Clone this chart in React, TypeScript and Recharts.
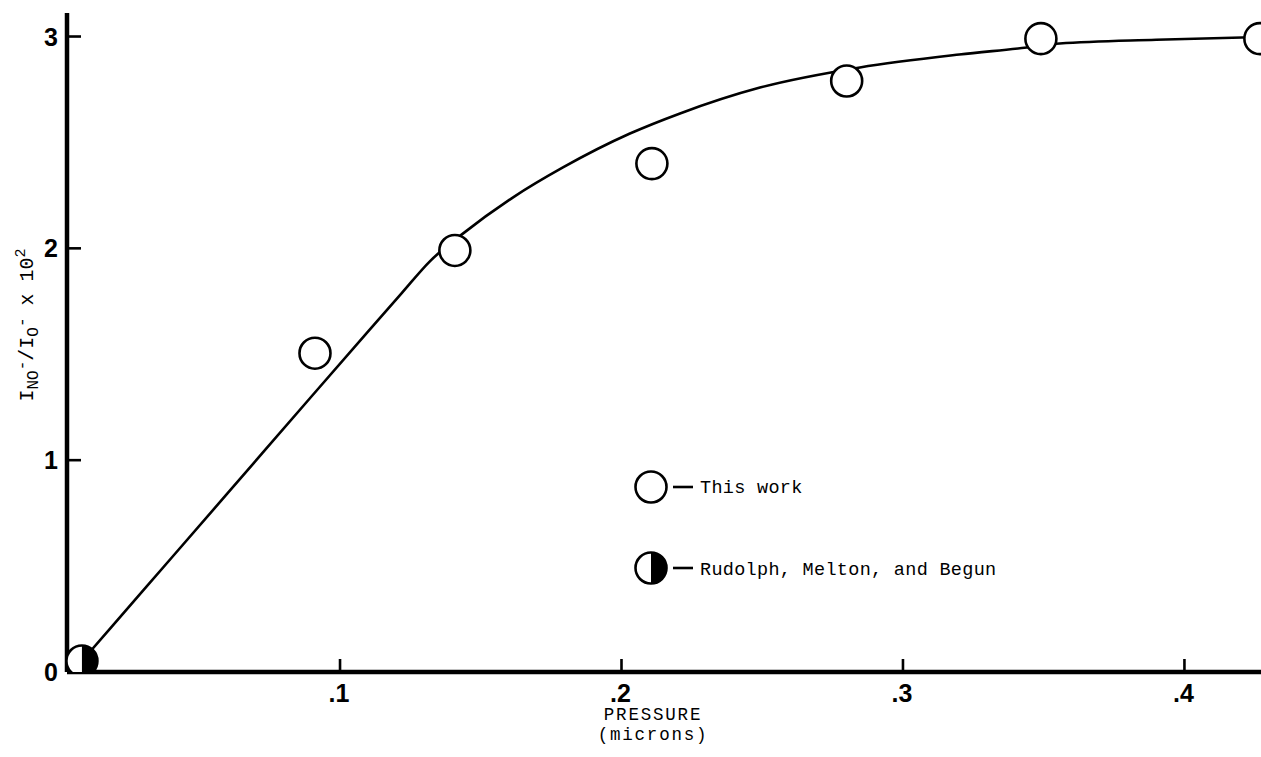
import React from 'react';
import { ComposedChart, Line, Scatter, XAxis, YAxis } from 'recharts';

const xTicks = [0.1, 0.2, 0.3, 0.4];
const xTickLabels = ['.1', '.2', '.3', '.4'];
const yTicks = [0, 1, 2, 3];
const yTickLabels = ['0', '1', '2', '3'];

const thisWorkX = [0.0911, 0.1408, 0.2108, 0.28, 0.349, 0.4268];
const thisWorkY = [1.505, 1.99, 2.4, 2.79, 2.99, 2.99];

const rudolphX = [0.0083];
const rudolphY = [0.052];

const curveX = [0.0083, 0.03, 0.06, 0.09, 0.11, 0.122, 0.132, 0.1433, 0.1615, 0.1792, 0.203, 0.2208, 0.2492, 0.2847, 0.32, 0.344, 0.3557, 0.39, 0.4272];
const curveY = [0.052, 0.384, 0.843, 1.303, 1.608, 1.79, 1.94, 2.066, 2.241, 2.382, 2.542, 2.637, 2.759, 2.854, 2.915, 2.948, 2.967, 2.985, 2.998];

const X_DOMAIN: [number, number] = [0.003, 0.4272];
const Y_DOMAIN: [number, number] = [0, 3.111];

const thisWork = thisWorkX.map((x, i) => ({ x, y: thisWorkY[i] }));
const rudolph = rudolphX.map((x, i) => ({ x, y: rudolphY[i] }));
const curve = curveX.map((x, i) => ({ x, y: curveY[i] }));

const MONO = '"Liberation Mono", "Courier New", monospace';
const SANS = '"Liberation Sans", Arial, sans-serif';

const OpenCircle = (props: any) => {
  const { cx, cy } = props;
  return <circle cx={cx} cy={cy} r={15.5} fill="#fff" stroke="#000" strokeWidth={2.6} />;
};

const HalfCircle = (props: any) => {
  const { cx, cy } = props;
  const r = 15.5;
  return (
    <g>
      <circle cx={cx} cy={cy} r={r} fill="#fff" stroke="#000" strokeWidth={2.6} />
      <path d={`M ${cx} ${cy - r} A ${r} ${r} 0 0 1 ${cx} ${cy + r} Z`} fill="#000" />
    </g>
  );
};

const YTick = (props: any) => {
  const { x, y, payload } = props;
  const idx = yTicks.indexOf(payload.value);
  return (
    <g>
      {payload.value !== 0 && <line x1={x} x2={x + 14} y1={y} y2={y} stroke="#000" strokeWidth={2.6} />}
      <text x={x - 9} y={y + 9} textAnchor="end" fontFamily={SANS} fontWeight="bold" fontSize={25} fill="#000">
        {yTickLabels[idx]}
      </text>
    </g>
  );
};

const XTick = (props: any) => {
  const { x, y, payload } = props;
  const idx = xTicks.indexOf(payload.value);
  return (
    <g>
      <line x1={x} x2={x} y1={y} y2={y - 13} stroke="#000" strokeWidth={2.6} />
      <text x={x - 1} y={y + 30} textAnchor="middle" fontFamily={SANS} fontWeight="bold" fontSize={25} fill="#000">
        {xTickLabels[idx]}
      </text>
    </g>
  );
};

const YLabel = () => (
  <text
    x={33}
    y={325}
    transform="rotate(-90, 33, 325)"
    textAnchor="middle"
    fontFamily={MONO}
    fontSize={20}
    fill="#000"
  >
    I
    <tspan dy={5} fontSize={16}>NO</tspan>
    <tspan dy={-11} fontSize={16}>-</tspan>
    <tspan dy={6}>/I</tspan>
    <tspan dy={5} fontSize={16}>O</tspan>
    <tspan dy={-11} fontSize={16}>-</tspan>
    <tspan dy={6}> x 10</tspan>
    <tspan dy={-8} fontSize={15}>2</tspan>
  </text>
);

const XLabel = (props: any) => {
  const vb = props.viewBox || {};
  const cx = (vb.x || 0) + (vb.width || 0) / 2 - 11;
  return (
    <g>
      <text x={cx} y={720} textAnchor="middle" fontFamily={MONO} fontSize={17.5} letterSpacing={1.8} fill="#000">
        PRESSURE
      </text>
      <text x={cx} y={740} textAnchor="middle" fontFamily={MONO} fontSize={17.5} letterSpacing={1.8} fill="#000">
        (microns)
      </text>
    </g>
  );
};

const LegendOverlay = () => (
  <svg width={420} height={130} style={{ position: 'absolute', left: 633, top: 469 }}>
    <circle cx={18} cy={18} r={15.5} fill="#fff" stroke="#000" strokeWidth={2.6} />
    <line x1={40} x2={60} y1={18} y2={18} stroke="#000" strokeWidth={2.6} />
    <text x={67} y={24} fontFamily={MONO} fontSize={18.5} letterSpacing={0.3} fill="#000">This work</text>
    <circle cx={18} cy={99} r={15.5} fill="#fff" stroke="#000" strokeWidth={2.6} />
    <path d="M 18 83.5 A 15.5 15.5 0 0 1 18 114.5 Z" fill="#000" />
    <line x1={40} x2={60} y1={99} y2={99} stroke="#000" strokeWidth={2.6} />
    <text x={67} y={106} fontFamily={MONO} fontSize={18.5} letterSpacing={0.3} fill="#000">Rudolph, Melton, and Begun</text>
  </svg>
);

export default function App() {
  return (
    <div style={{ position: 'absolute', left: 0, top: 0, width: 1261, height: 757, background: '#fff', overflow: 'hidden' }}>
      <ComposedChart width={1261} height={757} margin={{ top: 13, right: 0, bottom: 0, left: 0 }}>
        <XAxis
          dataKey="x"
          type="number"
          domain={X_DOMAIN}
          allowDataOverflow
          ticks={xTicks}
          tick={<XTick />}
          tickLine={false}
          tickSize={0}
          tickMargin={0}
          height={85}
          axisLine={{ stroke: '#000', strokeWidth: 4.5 }}
          label={<XLabel />}
        />
        <XAxis
          xAxisId="top"
          orientation="top"
          dataKey="x"
          type="number"
          domain={X_DOMAIN}
          allowDataOverflow
          height={0}
          tick={false}
          tickLine={false}
          axisLine={{ stroke: '#000', strokeWidth: 2.6 }}
        />
        <YAxis
          dataKey="y"
          type="number"
          domain={Y_DOMAIN}
          allowDataOverflow
          ticks={yTicks}
          tick={<YTick />}
          tickLine={false}
          tickSize={0}
          tickMargin={0}
          width={67}
          axisLine={{ stroke: '#000', strokeWidth: 4.5 }}
          label={<YLabel />}
        />
        <Line
          data={curve}
          dataKey="y"
          type="monotone"
          stroke="#000"
          strokeWidth={2.6}
          dot={false}
          activeDot={false}
          isAnimationActive={false}
        />
        <Scatter data={thisWork} dataKey="y" shape={<OpenCircle />} isAnimationActive={false} />
        <Scatter data={rudolph} dataKey="y" shape={<HalfCircle />} isAnimationActive={false} />
      </ComposedChart>
      <LegendOverlay />
    </div>
  );
}
